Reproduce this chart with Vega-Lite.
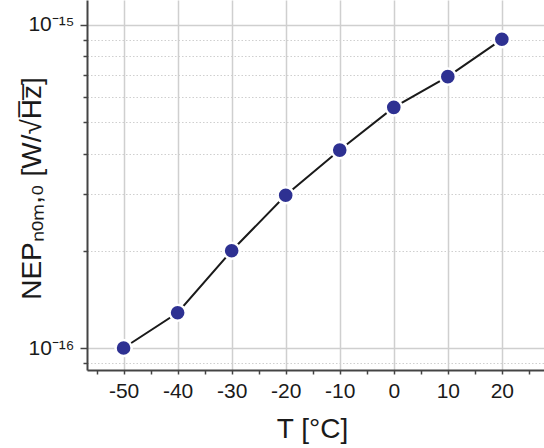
{
  "$schema": "https://vega.github.io/schema/vega-lite/v6.json",
  "autosize": "none",
  "width": 457,
  "height": 370,
  "padding": {"left": 87, "top": 0, "right": 0, "bottom": 78},
  "background": "white",
  "config": {"view": {"stroke": null}, "font": "Liberation Sans"},
  "data": {
    "values": [
      {"T": -50, "NEP": 1.0e-16},
      {"T": -40, "NEP": 1.286e-16},
      {"T": -30, "NEP": 2.0e-16},
      {"T": -20, "NEP": 2.97e-16},
      {"T": -10, "NEP": 4.1e-16},
      {"T": 0, "NEP": 5.56e-16},
      {"T": 10, "NEP": 6.92e-16},
      {"T": 20, "NEP": 9.03e-16}
    ]
  },
  "encoding": {
    "x": {
      "field": "T",
      "type": "quantitative",
      "scale": {"domain": [-56.77, 27.8], "nice": false, "zero": false},
      "axis": {
        "values": [-55, -50, -45, -40, -35, -30, -25, -20, -15, -10, -5, 0, 5, 10, 15, 20, 25],
        "labelExpr": "datum.value % 10 == 0 ? '' + datum.value : ''",
        "labelFontSize": 21,
        "labelColor": "#1a1a1a",
        "labelPadding": 6,
        "labelFlush": false,
        "labelOverlap": false,
        "tickSize": 4,
        "tickColor": "#444444",
        "tickWidth": 1.5,
        "domainColor": "#444444",
        "domainWidth": 2,
        "grid": true,
        "gridColor": "#cfcfcf",
        "gridWidth": 1.5,
        "gridOpacity": {"condition": {"test": "datum.value % 10 != 0", "value": 0}, "value": 1},
        "title": "T [°C]",
        "titleFontSize": 28,
        "titleFontWeight": "normal",
        "titleColor": "#1a1a1a",
        "titleBaseline": "alphabetic",
        "titleY": 67,
        "titleX": 225
      }
    },
    "y": {
      "field": "NEP",
      "type": "quantitative",
      "scale": {"type": "log", "domain": [8.55e-17, 1.195e-15], "nice": false},
      "axis": {
        "values": [9e-17, 1e-16, 2e-16, 3e-16, 4e-16, 5e-16, 6e-16, 7e-16, 8e-16, 9e-16, 1e-15],
        "labelExpr": "datum.value > 9.9e-16 ? '10⁻¹⁵' : (datum.value > 9.9e-17 && datum.value < 1.01e-16 ? '10⁻¹⁶' : '')",
        "labelFontSize": 21,
        "labelColor": "#1a1a1a",
        "labelPadding": 6,
        "labelFlush": false,
        "labelOverlap": false,
        "tickSize": {"condition": {"test": "datum.value > 9.9e-16 || (datum.value > 9.9e-17 && datum.value < 1.01e-16)", "value": 7}, "value": 4},
        "tickColor": "#444444",
        "tickWidth": 1.5,
        "domainColor": "#444444",
        "domainWidth": 2,
        "grid": true,
        "gridColor": "#cfcfcf",
        "gridWidth": {"condition": {"test": "datum.value > 9.9e-16 || (datum.value > 9.9e-17 && datum.value < 1.01e-16)", "value": 1.5}, "value": 1},
        "gridDash": {"condition": {"test": "datum.value > 9.9e-16 || (datum.value > 9.9e-17 && datum.value < 1.01e-16)", "value": []}, "value": [1.5, 2]},
        "title": "NEPₙₒₘ,₀ [W/√H̅z̅]",
        "titleFontSize": 28,
        "titleFontWeight": "normal",
        "titleColor": "#1a1a1a",
        "titleBaseline": "alphabetic",
        "titleX": -47,
        "titleY": 188
      }
    }
  },
  "layer": [
    {"mark": {"type": "line", "color": "#1a1a1a", "strokeWidth": 2}},
    {"mark": {"type": "circle", "size": 260, "fill": "#2e3192", "stroke": "white", "strokeWidth": 2.5, "opacity": 1}}
  ]
}
